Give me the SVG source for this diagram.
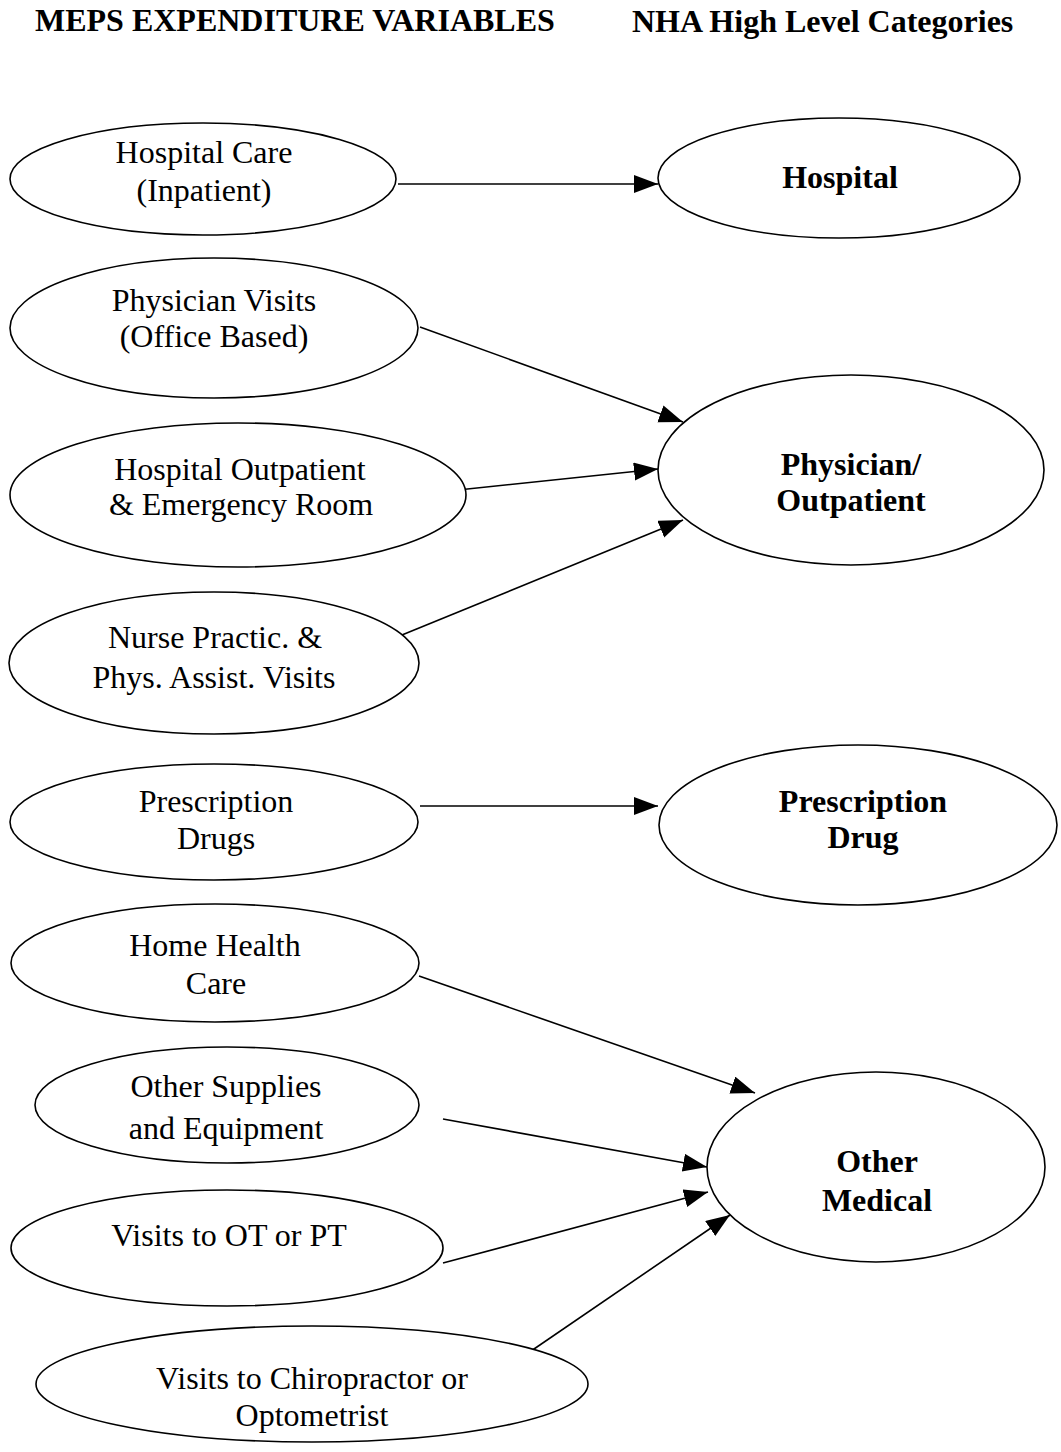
<svg xmlns="http://www.w3.org/2000/svg" width="1061" height="1452" viewBox="0 0 1061 1452">
<style>
  .n { fill: #ffffff; stroke: #000000; stroke-width: 1.6; }
  .t { font-family: "Liberation Serif", "Times New Roman", serif; font-size: 32px; fill: #000000; text-anchor: middle; }
  .b { font-weight: bold; }
  .h { font-family: "Liberation Serif", "Times New Roman", serif; font-size: 32px; font-weight: bold; fill: #000000; }
  .c { stroke: #000000; stroke-width: 1.6; fill: none; marker-end: url(#arr); }
</style>
<defs>
  <marker id="arr" markerUnits="userSpaceOnUse" markerWidth="26" markerHeight="20" refX="24" refY="9" orient="auto">
    <path d="M0,0 L24,9 L0,18 z" fill="#000000"/>
  </marker>
</defs>
<rect width="1061" height="1452" fill="#ffffff"/>
<g id="headers">
  <text class="h" x="35" y="31">MEPS EXPENDITURE VARIABLES</text>
  <text class="h" x="632" y="32">NHA High Level Categories</text>
</g>
<g id="connectors">
  <line class="c" x1="398" y1="184" x2="658" y2="184"/>
  <line class="c" x1="420" y1="327" x2="683" y2="422"/>
  <line class="c" x1="420" y1="494" x2="658" y2="469"/>
  <line class="c" x1="397" y1="637" x2="683" y2="520"/>
  <line class="c" x1="420" y1="806" x2="658" y2="806"/>
  <line class="c" x1="419" y1="976" x2="755" y2="1093"/>
  <line class="c" x1="443" y1="1119" x2="707" y2="1167"/>
  <line class="c" x1="443" y1="1263" x2="708" y2="1192"/>
  <line class="c" x1="515" y1="1362" x2="730" y2="1215"/>
</g>
<g id="hospital-care">
  <ellipse class="n" cx="203" cy="179" rx="193" ry="56"/>
  <text class="t" x="204" y="163">Hospital Care</text>
  <text class="t" x="204" y="201">(Inpatient)</text>
</g>
<g id="physician-visits">
  <ellipse class="n" cx="214" cy="328" rx="204" ry="70"/>
  <text class="t" x="214" y="311">Physician Visits</text>
  <text class="t" x="214" y="347">(Office Based)</text>
</g>
<g id="hospital-outpatient">
  <ellipse class="n" cx="238" cy="495" rx="228" ry="72"/>
  <text class="t" x="240" y="480">Hospital Outpatient</text>
  <text class="t" x="241" y="515">&amp; Emergency Room</text>
</g>
<g id="nurse-practic">
  <ellipse class="n" cx="214" cy="663" rx="205" ry="71"/>
  <text class="t" x="215" y="648">Nurse Practic. &amp;</text>
  <text class="t" x="214" y="688">Phys. Assist. Visits</text>
</g>
<g id="prescription-drugs">
  <ellipse class="n" cx="214" cy="822" rx="204" ry="58"/>
  <text class="t" x="216" y="812">Prescription</text>
  <text class="t" x="216" y="849">Drugs</text>
</g>
<g id="home-health">
  <ellipse class="n" cx="215" cy="963" rx="204" ry="59"/>
  <text class="t" x="215" y="956">Home Health</text>
  <text class="t" x="216" y="994">Care</text>
</g>
<g id="other-supplies">
  <ellipse class="n" cx="227" cy="1105" rx="192" ry="58"/>
  <text class="t" x="226" y="1097">Other Supplies</text>
  <text class="t" x="226" y="1139">and Equipment</text>
</g>
<g id="ot-pt">
  <ellipse class="n" cx="227" cy="1248" rx="216" ry="58"/>
  <text class="t" x="229" y="1246">Visits to OT or PT</text>
</g>
<g id="chiropractor">
  <ellipse class="n" cx="312" cy="1384" rx="276" ry="58"/>
  <text class="t" x="312" y="1389">Visits to Chiropractor or</text>
  <text class="t" x="312" y="1426">Optometrist</text>
</g>
<g id="hospital">
  <ellipse class="n" cx="839" cy="178" rx="181" ry="60"/>
  <text class="t b" x="840" y="188">Hospital</text>
</g>
<g id="physician-outpatient">
  <ellipse class="n" cx="851" cy="470" rx="193" ry="95"/>
  <text class="t b" x="851" y="475">Physician/</text>
  <text class="t b" x="851" y="511">Outpatient</text>
</g>
<g id="prescription-drug">
  <ellipse class="n" cx="858" cy="825" rx="199" ry="80"/>
  <text class="t b" x="863" y="812">Prescription</text>
  <text class="t b" x="863" y="848">Drug</text>
</g>
<g id="other-medical">
  <ellipse class="n" cx="876" cy="1167" rx="169" ry="95"/>
  <text class="t b" x="877" y="1172">Other</text>
  <text class="t b" x="877" y="1211">Medical</text>
</g>
</svg>
